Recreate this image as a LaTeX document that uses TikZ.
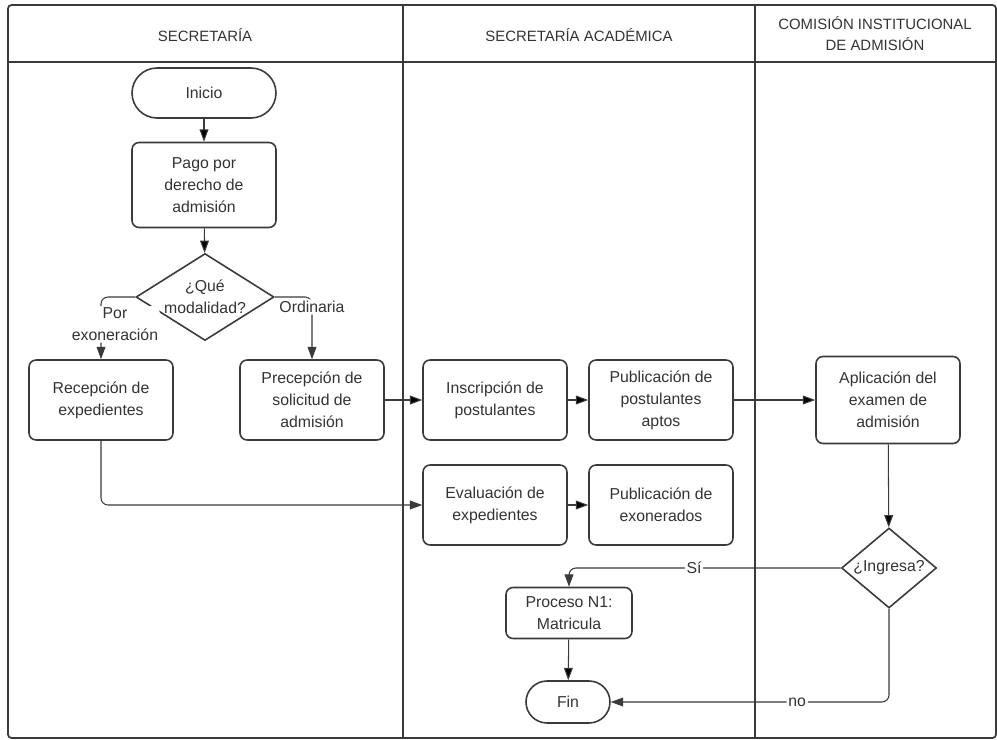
\documentclass[tikz,border=0pt]{standalone}
\usepackage{fontspec}
\setmainfont{Liberation Sans}
\usetikzlibrary{arrows.meta,shapes.geometric}

\definecolor{lineas}{HTML}{3A3A3A}
\definecolor{texto}{HTML}{333333}

\begin{document}
\begin{tikzpicture}[x=0.02cm, y=-0.02cm,
  font=\fontsize{9}{12.5}\selectfont, text=texto,
  caja/.style={draw=lineas, line width=0.9pt, rounded corners=4pt, align=center,
    minimum width=2.88cm, minimum height=1.6cm, inner sep=2pt},
  terminal/.style={draw=lineas, line width=0.9pt, rounded corners=0.5cm,
    minimum width=2.88cm, minimum height=1cm},
  decision/.style={draw=lineas, line width=0.9pt, diamond, align=center,
    inner sep=0pt, aspect=1.6},
  flecha/.style={draw=lineas, line width=0.6pt, rounded corners=4pt,
    -{Triangle[length=7pt,width=5pt]}},
  etiqueta/.style={fill=white, inner sep=1pt, align=center},
  marco/.style={draw=lineas, line width=1pt},
  titulo/.style={font=\fontsize{8.5}{12}\selectfont, align=center}]
\useasboundingbox (0,0) rectangle (997,740);

% carriles
\draw[marco, rounded corners=2pt] (8,5) rectangle (996,738);
\draw[marco] (8,62) -- (996,62)
  (403,5) -- (403,738) (755,5) -- (755,738);
\node[titulo] (secre) at (205,35) {SECRETARÍA};
\node[titulo] (acad) at (579,35) {SECRETARÍA ACADÉMICA};
\node[titulo] (comi) at (875,34) {COMISIÓN INSTITUCIONAL\\DE ADMISIÓN};

% nodos
\node[terminal] (inicio) at (204,93) {Inicio};
\node[caja, minimum height=1.7cm] (pago) at (204,185) {Pago por\\derecho de\\admisión};
\node[decision, minimum width=2.76cm, minimum height=1.74cm] (modalidad) at (205,297) {¿Qué\\modalidad?};
\node[caja] (recep) at (101,400) {Recepción de\\expedientes};
\node[caja] (precep) at (312,400) {Precepción de\\solicitud de\\admisión};
\node[caja] (inscrip) at (495,400) {Inscripción de\\postulantes};
\node[caja] (aptos) at (661,400) {Publicación de\\postulantes\\aptos};
\node[caja] (evalua) at (495,505) {Evaluación de\\expedientes};
\node[caja] (exoner) at (661,505) {Publicación de\\exonerados};
\node[caja, minimum height=1.74cm] (aplica) at (888,400) {Aplicación del\\examen de\\admisión};
\node[decision, aspect=1.2, minimum width=1.9cm, minimum height=1.6cm] (ingresa) at (889,568) {¿Ingresa?};
\node[caja, minimum width=2.52cm, minimum height=1.02cm] (matricula) at (569,613) {Proceso N1:\\Matricula};
\node[terminal, minimum width=1.68cm, minimum height=0.84cm, rounded corners=0.42cm] (fin) at (568,702) {Fin};

% conectores
\path[flecha] (inicio) edge (pago)
  (pago) edge (modalidad)
  (precep) edge (inscrip)
  (inscrip) edge (aptos)
  (aptos) edge (aplica)
  (evalua) edge (exoner)
  (aplica) edge (ingresa)
  (matricula) edge (fin);
\draw[flecha] (modalidad.west) -| node[etiqueta, pos=0.72, xshift=0.28cm] {Por\\exoneración} (recep.north);
\draw[flecha] (modalidad.east) -| node[etiqueta, pos=0.58] {Ordinaria} (precep.north);
\draw[flecha] (recep.south) |- (evalua.west);
\draw[flecha] (ingresa.west) -| node[etiqueta, pos=0.27] {Sí} (matricula.north);
\draw[flecha] (ingresa.south) |- node[etiqueta, pos=0.665] {no} (fin.east);
\end{tikzpicture}
\end{document}
